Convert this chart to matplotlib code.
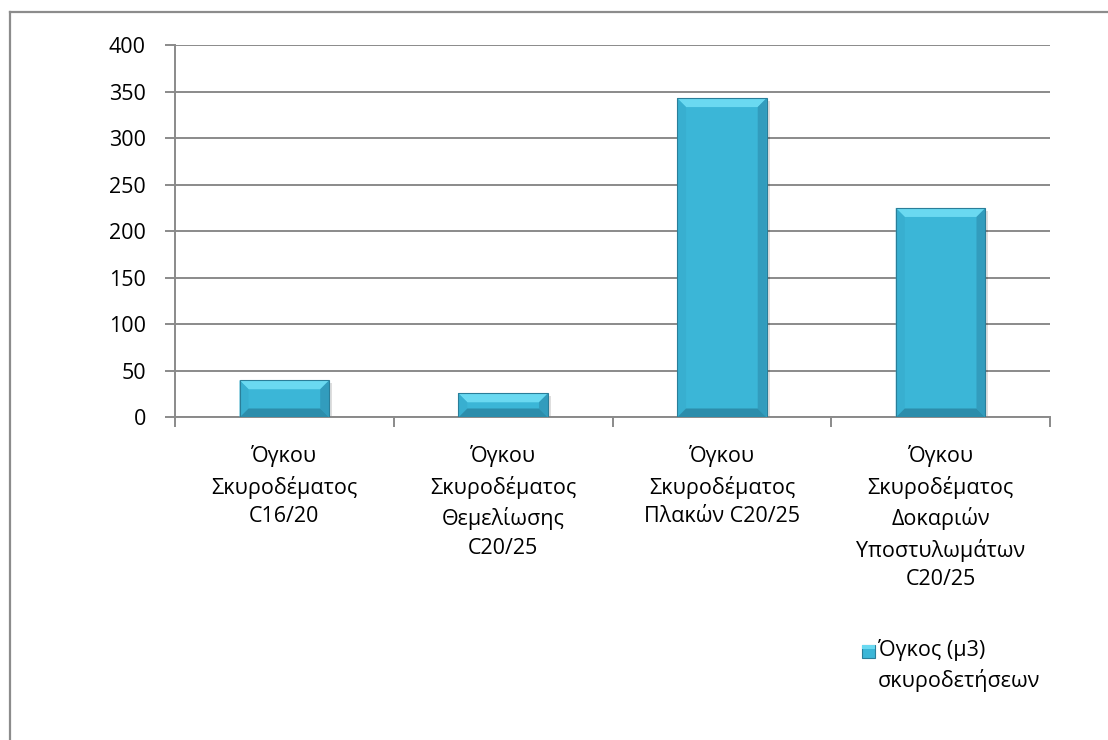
import numpy as np
import matplotlib
matplotlib.use("Agg")
import matplotlib.pyplot as plt
from matplotlib.patches import Polygon, Rectangle
from matplotlib.lines import Line2D

plt.rcParams['font.family'] = ['Open Sans', 'DejaVu Sans']

categories = [
    "Όγκου\nΣκυροδέματος\nC16/20",
    "Όγκου\nΣκυροδέματος\nΘεμελίωσης\nC20/25",
    "Όγκου\nΣκυροδέματος\nΠλακών C20/25",
    "Όγκου\nΣκυροδέματος\nΔοκαριών\nΥποστυλωμάτων\nC20/25",
]
volumes = [40, 26, 343, 225]
series_name = "Όγκος (μ3)\nσκυροδετήσεων"
yticks = [0, 50, 100, 150, 200, 250, 300, 350, 400]

W, H = 1108, 740
fig = plt.figure(figsize=(W / 100, H / 100), dpi=100)
fig.patch.set_facecolor("white")

# chart-area frame (only top and left edges fall inside the image)
fig.add_artist(Line2D([10 / W, 10 / W], [0, 1 - 12 / H], color="#8c8c8c", lw=1.6))
fig.add_artist(Line2D([10 / W, 1], [1 - 12 / H, 1 - 12 / H], color="#8c8c8c", lw=1.6))

left, right, top, bottom = 175, 1050, 45, 417.5
ax = fig.add_axes([left / W, 1 - bottom / H, (right - left) / W, (bottom - top) / H])

x = np.arange(len(categories))
bar_w = 0.41
bars = ax.bar(x, volumes, width=bar_w, color="#3BB6D7", edgecolor="none", zorder=3)

ax.set_xlim(-0.5, len(categories) - 0.5)
ax.set_ylim(0, 400)
ax.set_yticks(yticks)
ax.set_yticklabels([str(v) for v in yticks], fontsize=15.5)
ax.yaxis.grid(True, color="#8a8a8a", lw=1.4)
ax.set_axisbelow(True)

ax.set_xticks(x)
ax.set_xticklabels(categories, fontsize=15.5, linespacing=1.47)
ax.set_xticks(np.arange(len(categories) + 1) - 0.5, minor=True)
ax.tick_params(axis="x", which="major", length=0, pad=20)
ax.tick_params(axis="x", which="minor", length=7, width=1.4, color="#8a8a8a")
ax.tick_params(axis="y", length=7, width=1.4, color="#8a8a8a", pad=14)

for side in ("top", "right"):
    ax.spines[side].set_visible(False)
for side in ("left", "bottom"):
    ax.spines[side].set_color("#8a8a8a")
    ax.spines[side].set_linewidth(1.4)

# bevel effect drawn in pixel space around each bar
fig.canvas.draw()
b = 9
for rect in bars:
    (x0, y0), (x1, y1) = ax.transData.transform(
        [(rect.get_x(), rect.get_y()),
         (rect.get_x() + rect.get_width(), rect.get_y() + rect.get_height())])
    bb = min(b, (y1 - y0) / 2.6)
    shadow = Rectangle((x0 + 2, y0 - 3), x1 - x0 + 1, y1 - y0, transform=None,
                       facecolor="#000000", alpha=0.13, edgecolor="none", zorder=2)
    ax.add_artist(shadow)
    faces = [
        ([(x0, y1), (x1, y1), (x1 - bb, y1 - bb), (x0 + bb, y1 - bb)], "#6AD9F1"),
        ([(x0, y0), (x0, y1), (x0 + bb, y1 - bb), (x0 + bb, y0 + bb)], "#38AFD0"),
        ([(x1, y0), (x1, y1), (x1 - bb, y1 - bb), (x1 - bb, y0 + bb)], "#329CBD"),
        ([(x0, y0), (x1, y0), (x1 - bb, y0 + bb), (x0 + bb, y0 + bb)], "#2C8DAB"),
    ]
    for pts, col in faces:
        ax.add_artist(Polygon(pts, closed=True, transform=None, facecolor=col,
                              edgecolor="none", zorder=4))
    ax.add_artist(Rectangle((x0, y0), x1 - x0, y1 - y0, transform=None,
                            facecolor="none", edgecolor="#2A7E99", lw=0.8, zorder=5))

# legend
lx, ly, ls = 862, 645, 13
fig.add_artist(Rectangle((lx / W, 1 - (ly + ls) / H), ls / W, ls / H,
                         facecolor="#3BB6D7", edgecolor="#2A7E99", lw=0.8))
fig.add_artist(Rectangle((lx / W, 1 - (ly + 4) / H), ls / W, 4 / H,
                         facecolor="#6AD9F1", edgecolor="none"))
fig.text(878 / W, 1 - 639 / H, series_name, fontsize=15.5, va="top", ha="left",
         linespacing=1.47)

fig.savefig("out.png", dpi=100)
